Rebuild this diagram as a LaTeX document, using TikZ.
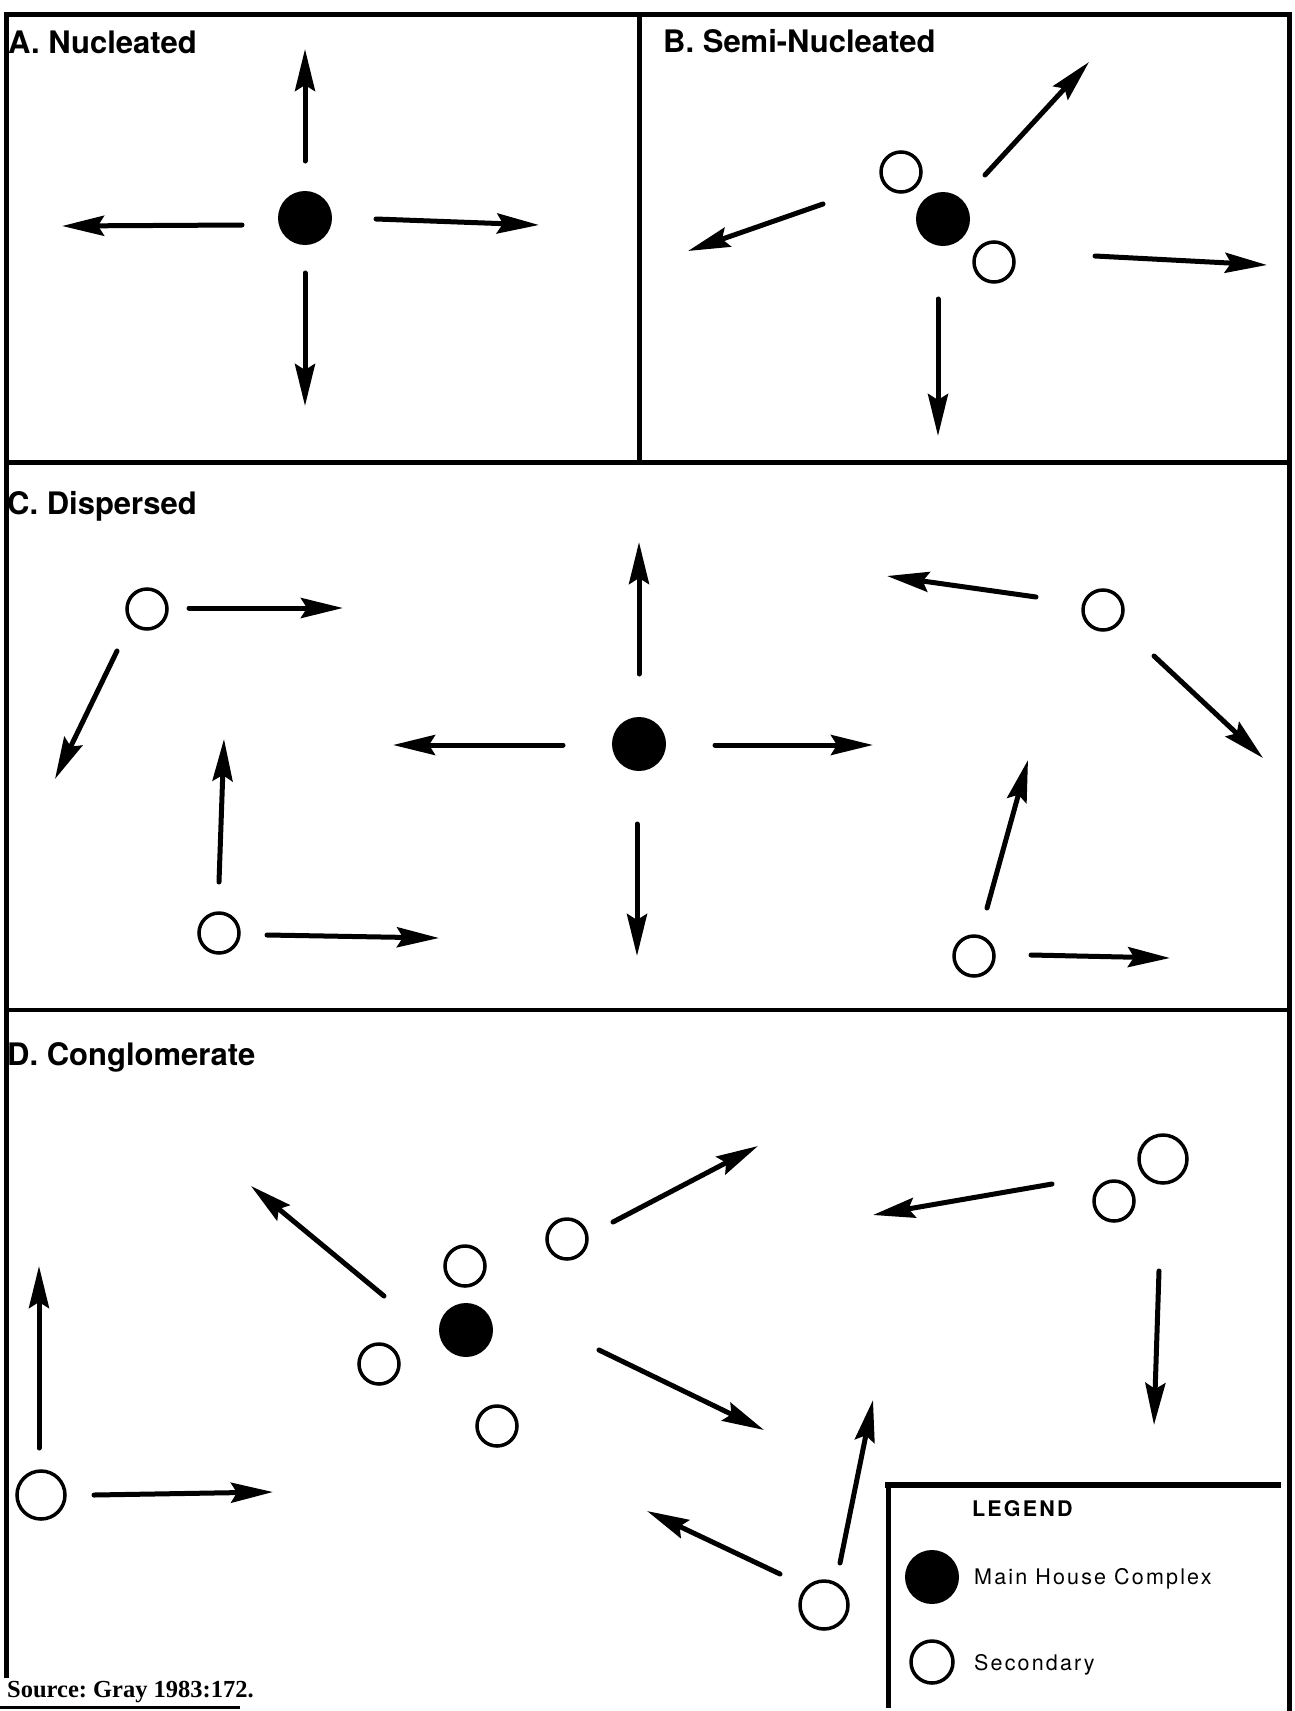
\documentclass[tikz,border=0pt]{standalone}
\usepackage{fontspec}
\newfontfamily\titlefont{TeX Gyre Heros}
\newfontfamily\legfont[LetterSpace=10]{TeX Gyre Heros}
\newfontfamily\srcfont{Liberation Serif}
\usetikzlibrary{arrows.meta}
\frenchspacing
\tikzset{
  frame/.style={line width=5pt, line cap=rect},
  arr/.style={line width=5pt, line cap=round, -{Stealth[length=42pt,width=20pt,inset=6pt]}},
  mainhouse/.style={circle, fill=black, minimum size=54pt, inner sep=0pt},
  secondary/.style={circle, draw=black, line width=3.5pt, minimum size=40pt, inner sep=0pt, fill=white},
  secbig/.style={secondary, minimum size=48pt},
  paneltitle/.style={anchor=base west, inner sep=0pt, font=\titlefont\bfseries\fontsize{31}{36}\selectfont},
  legtext/.style={anchor=base west, inner sep=0pt, font=\legfont\fontsize{21.5}{25}\selectfont},
}
\begin{document}
\begin{tikzpicture}[x=1pt,y=-1pt]
\useasboundingbox (0,0) rectangle (1295,1711);
% frame
\draw[frame] (6,14) -- (1289,14);
\draw[frame] (6,14) -- (6,1675);
\draw[frame] (1289,14) -- (1289,1711);
\draw[frame] (639,14) -- (639,462);
\draw[frame] (6,462) -- (1289,462);
\draw[frame, line width=4.5pt] (6,1010) -- (1289,1010);
\draw[line width=3pt] (0,1707) -- (240,1707);
% titles
\node[paneltitle] (tA) at (8,53) {A. Nucleated};
\node[paneltitle] (tB) at (663,52) {B. Semi-Nucleated};
\node[paneltitle] (tC) at (7,514) {C. Dispersed};
\node[paneltitle] (tD) at (7,1065) {D. Conglomerate};
% Panel A
\node[mainhouse] (Am) at (305,218) {};
\draw[arr] (305,161) -- (305,49);
\draw[arr] (242,225) -- (62,226);
\draw[arr] (376,219) -- (539,225);
\draw[arr] (305,273) -- (305,406);
% Panel B
\node[mainhouse] (Bm) at (943,219) {};
\node[secondary] (Bs1) at (901,172) {};
\node[secondary] (Bs2) at (994,262) {};
\draw[arr] (985,175) -- (1089,62);
\draw[arr] (823,204) -- (688,251);
\draw[arr] (1095,256) -- (1267,265);
\draw[arr] (938,299) -- (938,436);
% Panel C
\node[mainhouse] (Cm) at (639,744) {};
\node[secondary] (Cs1) at (147,609) {};
\node[secondary] (Cs2) at (219,933) {};
\node[secondary] (Cs3) at (1103,610) {};
\node[secondary] (Cs4) at (974,956) {};
\draw[arr] (639,674) -- (639,542);
\draw[arr] (563,745) -- (393,745);
\draw[arr] (715,745) -- (873,745);
\draw[arr] (637,824) -- (637,956);
\draw[arr] (189,608) -- (343,608);
\draw[arr] (117,651) -- (55,779);
\draw[arr] (219,882) -- (224,739);
\draw[arr] (267,935) -- (439,938);
\draw[arr] (1036,597) -- (887,576);
\draw[arr] (1154,656) -- (1263,758);
\draw[arr] (987,908) -- (1028,760);
\draw[arr] (1031,955) -- (1170,958);
% Panel D
\node[mainhouse] (Dm) at (466,1330) {};
\node[secondary] (Ds1) at (465,1266) {};
\node[secondary] (Ds2) at (379,1364) {};
\node[secondary] (Ds3) at (497,1426) {};
\node[secondary] (Ds4) at (567,1239) {};
\node[secondary] (Ds5) at (1114,1201) {};
\node[secbig] (Ds6) at (1163,1159) {};
\node[secbig] (Ds7) at (824,1605) {};
\node[secbig] (Ds8) at (41,1495) {};
\draw[arr] (384,1296) -- (251,1186);
\draw[arr] (613,1222) -- (758,1146);
\draw[arr] (599,1350) -- (764,1430);
\draw[arr] (1052,1184) -- (873,1215);
\draw[arr] (1159,1271) -- (1154,1425);
\draw[arr] (840,1563) -- (873,1400);
\draw[arr] (780,1574) -- (647,1511);
\draw[arr] (39,1448) -- (39,1266);
\draw[arr] (94,1495) -- (273,1492);
% Legend
\draw[frame, line width=6pt] (888,1485) -- (1278,1485);
\draw[frame] (888,1485) -- (888,1705);
\node[legtext, font=\legfont\bfseries\fontsize{21.5}{25}\selectfont] (lgT) at (972,1516) {LEGEND};
\node[mainhouse] (lgM) at (932,1577) {};
\node[legtext] (lgMt) at (974,1584) {Main House Complex};
\node[secondary, minimum size=42pt] (lgS) at (932,1662) {};
\node[legtext] (lgSt) at (974,1670) {Secondary};
% source
\node[anchor=base west, inner sep=0pt, font=\srcfont\bfseries\fontsize{24.5}{28}\selectfont] (src) at (7,1697) {Source: Gray 1983:172.};
\end{tikzpicture}
\end{document}
